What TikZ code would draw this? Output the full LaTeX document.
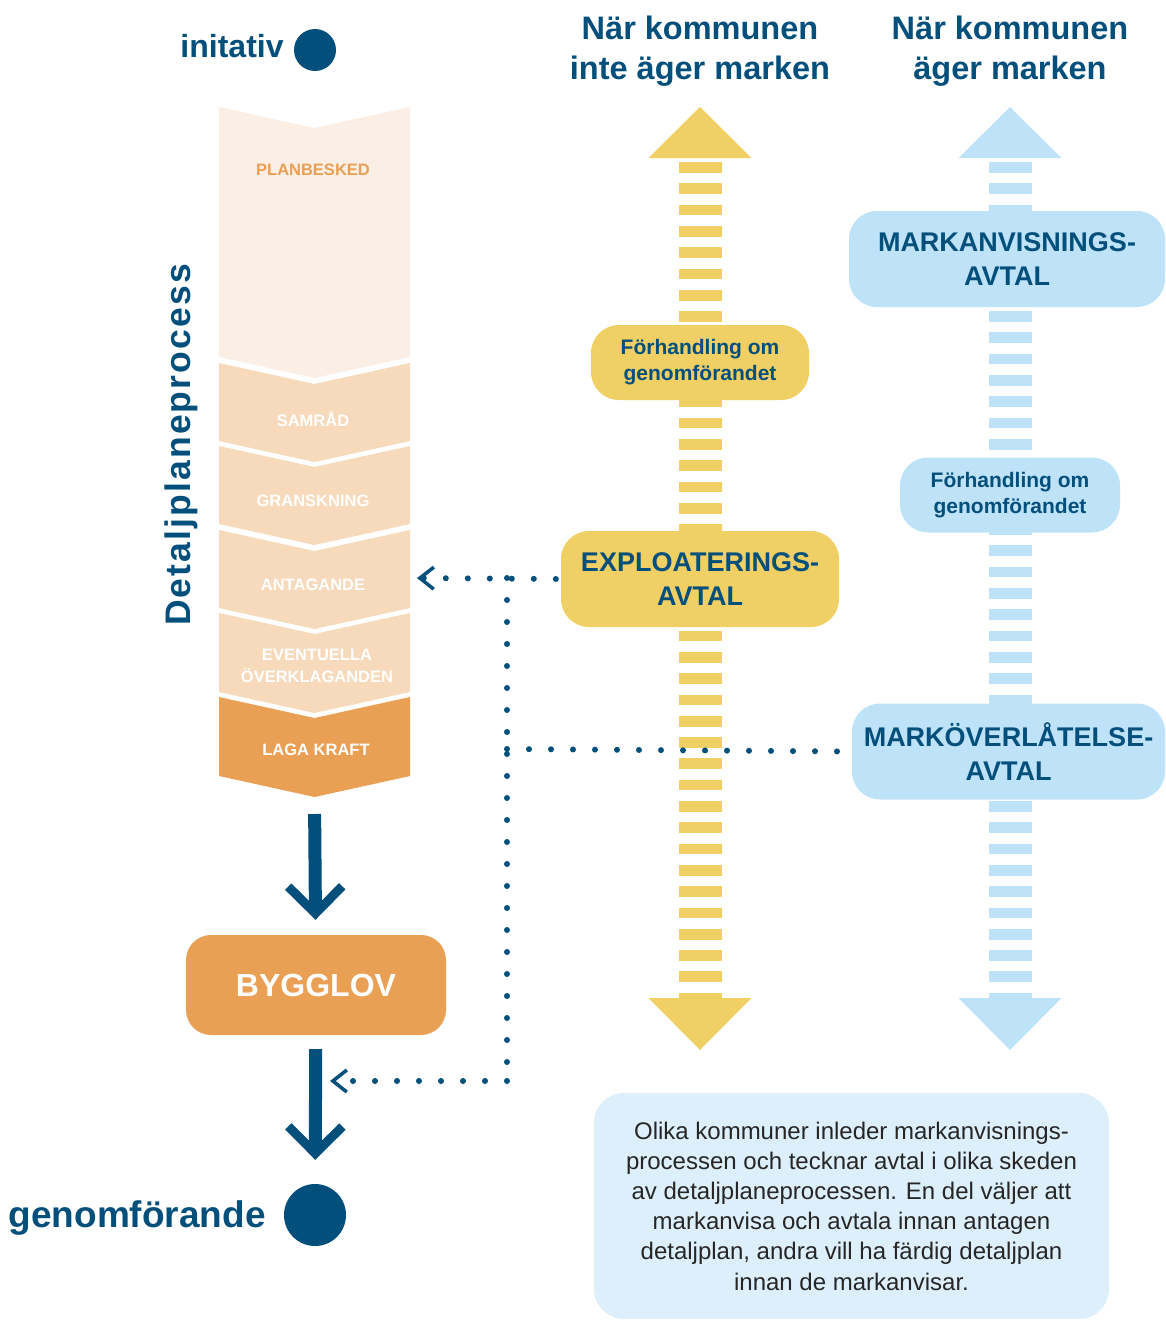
\documentclass[tikz,border=0pt]{standalone}
\usepackage{fontspec}
\setmainfont{Liberation Sans}
\newfontfamily\spacedfont[LetterSpace=6.0]{Liberation Sans}
\usepackage{xcolor}
\usetikzlibrary{arrows.meta,positioning,calc}
\definecolor{navy}{HTML}{034F7C}
\definecolor{palepeach}{HTML}{FBEEE4}
\definecolor{peach}{HTML}{F7DABB}
\definecolor{apricot}{HTML}{E9A055}
\definecolor{sand}{HTML}{F0D064}
\definecolor{sky}{HTML}{BEE3F8}
\definecolor{mist}{HTML}{DDEFFB}
\tikzstyle{dot}=[circle, fill=navy, inner sep=0pt]

\begin{document}
\begin{tikzpicture}[x=1pt,y=-1pt,
	steplabel/.style={font=\bfseries\fontsize{16.5}{22}\selectfont, text=white, align=center, inner sep=0pt},
	header/.style={font=\bfseries\fontsize{32.5}{40}\selectfont, text=navy, align=center},
	pill/.style={rounded corners=28pt, align=center, text=navy, inner sep=0pt},
	pillsmall/.style={pill, font=\bfseries\fontsize{21}{26}\selectfont, minimum height=75pt},
	pillbig/.style={pill, font=\bfseries\fontsize{27}{34}\selectfont, minimum height=96pt},
	dotline/.style={navy, line width=6pt, line cap=round, dash pattern=on 0pt off 22pt},
	barb/.tip={Straight Barb[length=14pt, width=22pt, line width=3.5pt 0 1]},
	flow/.style={navy, line width=13pt, -{Straight Barb[length=27pt, width=54pt, line width=9pt 0 1]}}]
\useasboundingbox (0,0) rectangle (1165,1320);

\foreach \t/\b/\c in {107/357/palepeach, 363/441/peach, 446/524/peach, 530/608/peach, 613/692/peach, 697/776/apricot}
	\fill[\c] (219,\t) -- (314.5,\t+21) -- (410,\t) -- (410,\b) -- (314.5,\b+21) -- (219,\b) -- cycle;

\node (planbesked) at (313,170) [steplabel, text=apricot] {PLANBESKED};
\node (samrad) at (313,419) [steplabel] {SAMRÅD};
\node (granskning) at (313,501) [steplabel] {GRANSKNING};
\node (antagande) at (313,585) [steplabel] {ANTAGANDE};
\node (overklag) at (317,666) [steplabel] {EVENTUELLA\\ÖVERKLAGANDEN};
\node (laga) at (316,750) [steplabel] {LAGA KRAFT};
\node (detalj) at (181,445) [rotate=90, text=navy, font=\spacedfont\bfseries\fontsize{35.5}{35.5}\selectfont] {Detaljplaneprocess};

\node (initdot) at (315,50) [dot, minimum size=42pt] {};
\node (initlabel) [left=10pt of initdot, yshift=4pt, inner sep=0pt, text=navy, font=\bfseries\fontsize{32}{32}\selectfont] {initativ};
\node (slutdot) at (315,1215) [dot, minimum size=62pt] {};
\node (slutlabel) [left=18pt of slutdot, yshift=-3pt, inner sep=0pt, text=navy, font=\bfseries\fontsize{37}{37}\selectfont] {genomförande};

\node (bygglov) at (316,985) [fill=apricot, rounded corners=25pt, minimum width=260pt, minimum height=100pt, text=white, font=\bfseries\fontsize{32}{32}\selectfont] {BYGGLOV};
\coordinate (lagatip) at (314.5,797);
\draw[flow, shorten <=17pt, shorten >=15pt] (lagatip) -- (bygglov);
\draw[flow, shorten <=14pt, shorten >=24pt] (bygglov) -- (slutdot);

\node (utan) at (700,51) [header] {När kommunen\\inte äger marken};
\node (med) at (1010,51) [header] {När kommunen\\äger marken};

\foreach \x/\c in {700/sand, 1010/sky} {
	\fill[\c] (\x-51.5,158) -- (\x,107) -- (\x+51.5,158) -- cycle;
	\fill[\c] (\x-51.5,998) -- (\x,1050) -- (\x+51.5,998) -- cycle;
	\draw[\c, line width=43pt, dash pattern=on 10.7pt off 10.6pt] (\x,162) -- (\x,998);
}

\coordinate (jtop) at (507,578);
\coordinate (jmid) at (507,749);
\coordinate (jbot) at (507,1081);
\coordinate (antagedge) at (410,578);
\coordinate (flowedge) at (323,1081);

\node (forhandlingA) at (700,362.5) [pillsmall, fill=sand, minimum width=218pt] {Förhandling om\\genomförandet};
\node (exploatering) at (700,579) [pillbig, fill=sand, minimum width=278pt] {EXPLOATERINGS-\\AVTAL};
\node (markanvisning) at (1007,259) [pillbig, fill=sky, minimum width=316pt] {MARKANVISNINGS-\\AVTAL};
\node (forhandlingB) at (1010,495) [pillsmall, fill=sky, minimum width=220pt] {Förhandling om\\genomförandet};
\node (markoverlatelse) at (1008.5,751.5) [pillbig, fill=sky, minimum width=313pt] {MARKÖVERLÅTELSE-\\AVTAL};

\draw[dotline, -barb, shorten <=5pt, shorten >=7pt] (exploatering.west) -- (antagedge);
\draw[dotline] (jtop) -- (jbot);
\draw[dotline, shorten >=4pt] (jmid) -- (markoverlatelse.west);
\draw[dotline, -barb, shorten >=7pt] (jbot) -- (flowedge);

\node (note) at (851.5,1206) [fill=mist, rounded corners=30pt, minimum width=515pt, minimum height=226pt, align=center, text=black!85, font=\fontsize{24}{30.2}\selectfont] {Olika kommuner inleder markanvisnings-\\processen och tecknar avtal i olika skeden\\av detaljplaneprocessen. En del väljer att\\markanvisa och avtala innan antagen\\detaljplan, andra vill ha färdig detaljplan\\innan de markanvisar.};
\end{tikzpicture}
\end{document}
